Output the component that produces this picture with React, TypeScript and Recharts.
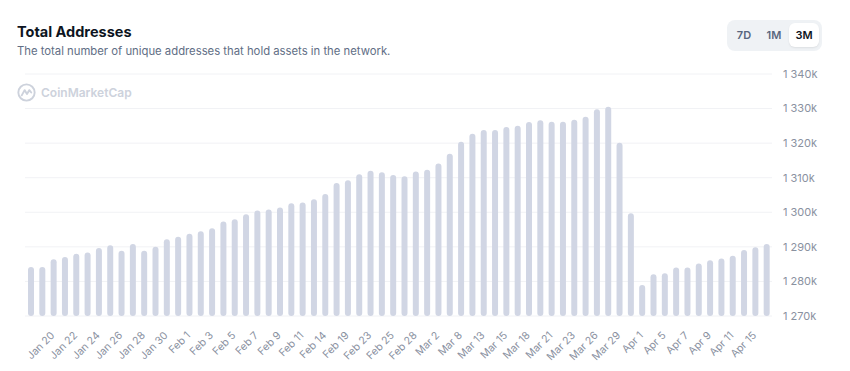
import { BarChart, Bar, XAxis, YAxis, CartesianGrid } from "recharts";

const dates = [
  "Jan 18", "Jan 19", "Jan 20", "Jan 21", "Jan 22", "Jan 23", "Jan 24", "Jan 25", "Jan 26", "Jan 27",
  "Jan 28", "Jan 29", "Jan 30", "Jan 31", "Feb 1", "Feb 2", "Feb 3", "Feb 4", "Feb 5", "Feb 6",
  "Feb 7", "Feb 8", "Feb 9", "Feb 10", "Feb 11", "Feb 13", "Feb 14", "Feb 17", "Feb 19", "Feb 21",
  "Feb 23", "Feb 24", "Feb 25", "Feb 27", "Feb 28", "Mar 1", "Mar 2", "Mar 5", "Mar 8", "Mar 11",
  "Mar 13", "Mar 14", "Mar 15", "Mar 17", "Mar 18", "Mar 20", "Mar 21", "Mar 22", "Mar 23", "Mar 25",
  "Mar 26", "Mar 28", "Mar 29", "Mar 31", "Apr 1", "Apr 3", "Apr 5", "Apr 6", "Apr 7", "Apr 8",
  "Apr 9", "Apr 10", "Apr 11", "Apr 13", "Apr 15", "Apr 16",
];

// total addresses, in thousands
const addressesK = [
  1284.2, 1284.2, 1286.4, 1287.1, 1288.0, 1288.4, 1289.7, 1290.5, 1288.9, 1290.8,
  1288.9, 1290.0, 1292.2, 1292.9, 1293.8, 1294.5, 1295.4, 1297.3, 1298.0, 1299.4,
  1300.5, 1300.8, 1301.4, 1302.6, 1302.8, 1303.8, 1305.3, 1308.5, 1309.3, 1311.0,
  1312.0, 1311.6, 1310.8, 1310.4, 1311.8, 1312.3, 1314.1, 1316.9, 1320.4, 1322.7,
  1323.8, 1323.8, 1324.7, 1325.0, 1326.1, 1326.6, 1326.2, 1326.2, 1326.8, 1327.6,
  1329.8, 1330.5, 1320.1, 1299.7, 1279.0, 1282.1, 1282.4, 1284.0, 1284.0, 1285.2,
  1286.1, 1286.6, 1287.4, 1289.1, 1289.9, 1290.8,
];

const tickLabels = [
  "Jan 20", "Jan 22", "Jan 24", "Jan 26", "Jan 28", "Jan 30", "Feb 1", "Feb 3", "Feb 5", "Feb 7",
  "Feb 9", "Feb 11", "Feb 14", "Feb 19", "Feb 23", "Feb 25", "Feb 28", "Mar 2", "Mar 8", "Mar 13",
  "Mar 15", "Mar 18", "Mar 21", "Mar 23", "Mar 26", "Mar 29", "Apr 1", "Apr 5", "Apr 7", "Apr 9",
  "Apr 11", "Apr 15",
];

const yTicks = [1270000, 1280000, 1290000, 1300000, 1310000, 1320000, 1330000, 1340000];

const ranges = ["7D", "1M", "3M"];

const data = dates.map((date, i) => ({ date, value: addressesK[i] * 1000 }));

const FONT = "Inter, 'Noto Sans', sans-serif";
const LABEL = "#8a919f";

const fmtY = (v: number) => {
  const k = Math.round(v / 1000);
  return `${Math.floor(k / 1000)} ${String(k % 1000).padStart(3, "0")}k`;
};

function AngledTick(props: any) {
  const { x, y, payload } = props;
  if (!tickLabels.includes(payload.value)) return null;
  const tx = x + 2;
  const ty = y + 18;
  return (
    <text
      x={tx}
      y={ty}
      transform={`rotate(-45 ${tx} ${ty})`}
      textAnchor="end"
      fontSize={10.5}
      fontFamily={FONT}
      fill={LABEL}
    >
      {payload.value}
    </text>
  );
}

export default function App() {
  return (
    <div
      style={{
        position: "absolute",
        left: 0,
        top: 0,
        width: 850,
        height: 371,
        background: "#ffffff",
        fontFamily: FONT,
        overflow: "hidden",
      }}
    >
      <BarChart
        width={850}
        height={371}
        data={data}
        margin={{ top: 74, right: 18, bottom: 5, left: 25 }}
        barCategoryGap={0}
      >
        <CartesianGrid vertical={false} stroke="#f1f2f5" />
        <XAxis
          dataKey="date"
          interval={0}
          tick={<AngledTick />}
          tickLine={false}
          axisLine={false}
          tickSize={0}
          height={50}
        />
        <YAxis
          orientation="right"
          domain={[1270000, 1340000]}
          ticks={yTicks}
          allowDataOverflow
          tickFormatter={fmtY}
          tickLine={false}
          axisLine={false}
          tickSize={0}
          tickMargin={11}
          width={60}
          tick={{ fontSize: 11, fill: LABEL, fontFamily: FONT, textAnchor: "start" }}
        />
        <Bar dataKey="value" fill="#d1d6e4" barSize={6} radius={[3, 3, 3, 3]} isAnimationActive={false} />
      </BarChart>

      <div style={{ position: "absolute", left: 17, top: 23, fontSize: 14.5, fontWeight: 700, color: "#0d1421", lineHeight: "18px" }}>
        Total Addresses
      </div>
      <div style={{ position: "absolute", left: 17, top: 44, fontSize: 11.3, color: "#616e85", lineHeight: "15px" }}>
        The total number of unique addresses that hold assets in the network.
      </div>

      <div
        style={{
          position: "absolute",
          left: 727,
          top: 20,
          width: 95,
          height: 31,
          background: "#eff2f5",
          borderRadius: 8,
        }}
      >
        {ranges.map((r, i) => {
          const active = r === "3M";
          return (
            <div
              key={r}
              style={{
                position: "absolute",
                left: [2, 32, 62][i],
                top: 3,
                width: 30,
                height: 24,
                lineHeight: "24px",
                textAlign: "center",
                fontSize: 11,
                fontWeight: 600,
                borderRadius: 6,
                background: active ? "#ffffff" : "transparent",
                color: active ? "#0d1421" : "#58667e",
                boxShadow: active ? "0 1px 2px rgba(0,0,0,0.08)" : "none",
              }}
            >
              {r}
            </div>
          );
        })}
      </div>

      <div style={{ position: "absolute", left: 17, top: 83, display: "flex", alignItems: "center", pointerEvents: "none" }}>
        <svg width={19} height={19} viewBox="0 0 20 20">
          <circle cx={10} cy={10} r={8.6} fill="none" stroke="#cdd2dc" strokeWidth={2} />
          <path d="M5 13 L8 7.5 L10.5 11.5 L13 7.5 L15 10" fill="none" stroke="#cdd2dc" strokeWidth={2} strokeLinecap="round" strokeLinejoin="round" />
        </svg>
        <span style={{ marginLeft: 5, fontSize: 12, fontWeight: 600, color: "#cdd2dc" }}>CoinMarketCap</span>
      </div>
    </div>
  );
}
